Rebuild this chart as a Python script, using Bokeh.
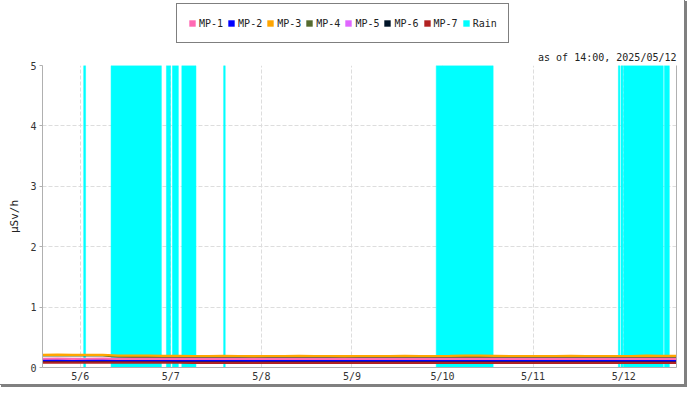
import pandas as pd
from bokeh.plotting import figure
from bokeh.layouts import column
from bokeh.models import (ColumnDataSource, Legend, LegendItem, Title, FixedTicker,
                          DatetimeTickFormatter, LinearAxis, Range1d)
from bokeh.embed import file_html
from bokeh.resources import INLINE

# ---------------- data ----------------
t_start = "2025-05-05 14:00"
t_end = "2025-05-12 14:00"
# readings every 4 hours from 2025-05-05 14:00 to 2025-05-12 14:00
times = pd.date_range(t_start, t_end, freq="4h")

mp1 = [0.145, 0.146, 0.144, 0.145, 0.146, 0.144, 0.143, 0.144, 0.145, 0.143, 0.142, 0.143,
       0.144, 0.143, 0.142, 0.143, 0.144, 0.143, 0.142, 0.143, 0.144, 0.143, 0.143, 0.142,
       0.143, 0.144, 0.143, 0.142, 0.144, 0.145, 0.143, 0.142, 0.143, 0.144, 0.143, 0.142,
       0.143, 0.143, 0.144, 0.143, 0.145, 0.144, 0.143]
mp2 = [0.120, 0.121, 0.119, 0.120, 0.121, 0.118, 0.117, 0.118, 0.117, 0.116, 0.117, 0.116,
       0.117, 0.116, 0.115, 0.116, 0.117, 0.116, 0.118, 0.117, 0.116, 0.117, 0.118, 0.117,
       0.116, 0.117, 0.118, 0.117, 0.116, 0.117, 0.116, 0.117, 0.116, 0.117, 0.118, 0.116,
       0.117, 0.116, 0.117, 0.118, 0.117, 0.118, 0.117]
mp3 = [0.210, 0.212, 0.208, 0.210, 0.210, 0.198, 0.196, 0.195, 0.194, 0.193, 0.190, 0.190,
       0.191, 0.190, 0.189, 0.190, 0.190, 0.191, 0.190, 0.190, 0.189, 0.190, 0.190, 0.190,
       0.191, 0.190, 0.190, 0.192, 0.196, 0.195, 0.193, 0.190, 0.190, 0.190, 0.190, 0.191,
       0.190, 0.190, 0.190, 0.190, 0.196, 0.194, 0.192]
mp4 = [0.200, 0.201, 0.199, 0.200, 0.200, 0.178, 0.174, 0.172, 0.171, 0.171, 0.170, 0.171,
       0.172, 0.170, 0.171, 0.172, 0.170, 0.171, 0.172, 0.170, 0.170, 0.171, 0.172, 0.170,
       0.171, 0.170, 0.172, 0.173, 0.172, 0.171, 0.170, 0.171, 0.172, 0.170, 0.171, 0.170,
       0.172, 0.171, 0.170, 0.172, 0.174, 0.173, 0.172]
mp5 = [0.134, 0.135, 0.133, 0.134, 0.135, 0.133, 0.134, 0.133, 0.132, 0.134, 0.135, 0.136,
       0.134, 0.133, 0.134, 0.133, 0.132, 0.133, 0.134, 0.133, 0.132, 0.133, 0.134, 0.133,
       0.132, 0.133, 0.134, 0.135, 0.134, 0.133, 0.132, 0.133, 0.134, 0.133, 0.132, 0.133,
       0.134, 0.133, 0.132, 0.134, 0.135, 0.134, 0.133]
mp6 = [0.106, 0.107, 0.105, 0.106, 0.107, 0.106, 0.105, 0.104, 0.105, 0.104, 0.103, 0.104,
       0.103, 0.104, 0.103, 0.104, 0.103, 0.102, 0.103, 0.104, 0.103, 0.104, 0.103, 0.102,
       0.103, 0.104, 0.103, 0.104, 0.105, 0.104, 0.103, 0.104, 0.103, 0.102, 0.103, 0.104,
       0.103, 0.104, 0.103, 0.105, 0.106, 0.105, 0.104]
mp7 = [0.082, 0.083, 0.081, 0.082, 0.083, 0.081, 0.080, 0.081, 0.080, 0.079, 0.077, 0.076,
       0.077, 0.076, 0.077, 0.076, 0.075, 0.076, 0.077, 0.076, 0.075, 0.076, 0.077, 0.076,
       0.075, 0.076, 0.077, 0.076, 0.077, 0.076, 0.075, 0.076, 0.077, 0.076, 0.075, 0.076,
       0.077, 0.076, 0.075, 0.077, 0.078, 0.077, 0.076]

series_names = ["MP-1", "MP-2", "MP-3", "MP-4", "MP-5", "MP-6", "MP-7"]
series_values = [mp1, mp2, mp3, mp4, mp5, mp6, mp7]
series_colors = ["#ff69b4", "#0000ff", "#ffa500", "#556b2f", "#e066ff", "#001428", "#b22222"]
draw_order = ["MP-4", "MP-5", "MP-6", "MP-2", "MP-7", "MP-1", "MP-3"]
rain_name = "Rain"
rain_color = "#00ffff"

# rain periods (drawn as full-height bars)
rain_start = ["2025-05-06 00:55", "2025-05-06 08:10", "2025-05-06 22:50", "2025-05-07 00:25",
              "2025-05-07 02:55", "2025-05-07 14:00", "2025-05-09 22:20", "2025-05-11 22:36",
              "2025-05-11 23:18", "2025-05-12 00:00", "2025-05-12 10:48"]
rain_end = ["2025-05-06 01:25", "2025-05-06 21:30", "2025-05-06 23:55", "2025-05-07 02:00",
            "2025-05-07 06:40", "2025-05-07 14:25", "2025-05-10 13:25", "2025-05-11 23:00",
            "2025-05-11 23:48", "2025-05-12 10:30", "2025-05-12 12:06"]
rain_level = 5.0

day_ticks = ["2025-05-06", "2025-05-07", "2025-05-08", "2025-05-09",
             "2025-05-10", "2025-05-11", "2025-05-12"]
y_ticks = [0, 1, 2, 3, 4, 5]
y_label = "μSv/h"
as_of_text = "as of 14:00, 2025/05/12"

# ---------------- legend strip ----------------
FONT = "DejaVu Sans Mono"
W = 684
LEG_H = 46

lf = figure(width=W, height=LEG_H, x_range=Range1d(0, 1), y_range=Range1d(0, 1),
            output_backend="svg", toolbar_location=None,
            x_axis_location=None, y_axis_location=None,
            min_border=0, min_border_left=0, min_border_right=0,
            min_border_top=0, min_border_bottom=0)
lf.grid.visible = False
lf.outline_line_color = None
lf.background_fill_color = "white"
lf.border_fill_color = "white"

items = []
for name, col in zip(series_names + [rain_name], series_colors + [rain_color]):
    sw = lf.quad(left=[0], right=[0], top=[0], bottom=[0], fill_color=col, line_color=None)
    items.append(LegendItem(label=name, renderers=[sw]))

legend = Legend(items=items, orientation="horizontal", location=(134, 3),
                glyph_width=8, glyph_height=8, label_standoff=3, spacing=4,
                padding=11, label_height=16, margin=0,
                label_text_font=FONT, label_text_font_size="10px", label_text_color="#222222",
                border_line_color="black", border_line_width=1, background_fill_color="white",
                background_fill_alpha=1.0)
lf.add_layout(legend, "center")

# ---------------- main chart ----------------
x0 = pd.Timestamp(t_start)
x1 = pd.Timestamp(t_end)

p = figure(width=W, height=384 - LEG_H, x_axis_type="datetime",
           x_range=(x0, x1), y_range=(0, 5),
           output_backend="svg", toolbar_location=None,
           min_border_left=42, min_border_right=8, min_border_top=19, min_border_bottom=14)
p.background_fill_color = "white"
p.border_fill_color = "white"
p.outline_line_color = None

rain_src = ColumnDataSource(dict(left=pd.to_datetime(rain_start), right=pd.to_datetime(rain_end),
                                 top=[rain_level] * len(rain_start), bottom=[0] * len(rain_start)))
p.quad(left="left", right="right", top="top", bottom="bottom", source=rain_src,
       fill_color=rain_color, line_color=rain_color, line_width=0.5)

lookup = {n: (v, c) for n, v, c in zip(series_names, series_values, series_colors)}
for name in draw_order:
    vals, col = lookup[name]
    src = ColumnDataSource(dict(t=times, v=vals))
    p.line("t", "v", source=src, line_color=col, line_width=2.2)

title = Title(text=as_of_text, align="right", text_font=FONT, text_font_size="10px",
              text_font_style="normal", text_color="#222222", standoff=5, offset=0)
p.add_layout(title, "above")

p.xaxis.ticker = FixedTicker(ticks=[pd.Timestamp(d).value / 1e6 for d in day_ticks])
p.xaxis.formatter = DatetimeTickFormatter(days="%-m/%-d", months="%-m/%-d", hours="%-m/%-d")
p.yaxis.ticker = FixedTicker(ticks=y_ticks)
p.yaxis.axis_label = y_label
for ax in (p.xaxis[0], p.yaxis[0]):
    ax.axis_line_color = "#b0b0b0"
    ax.major_tick_line_color = "#b0b0b0"
    ax.minor_tick_line_color = None
    ax.major_label_text_font = FONT
    ax.major_label_text_font_size = "10px"
    ax.major_label_text_color = "#333333"
    ax.axis_label_text_font = FONT
    ax.axis_label_text_font_size = "11px"
    ax.axis_label_text_font_style = "normal"
    ax.axis_label_text_color = "#222222"
p.xaxis.major_tick_out = 0
p.xaxis.major_tick_in = 0
p.xaxis.major_label_standoff = 3
p.xaxis.axis_label_standoff = 0
p.yaxis.major_tick_out = 3
p.yaxis.major_tick_in = 0
p.yaxis.major_label_standoff = 3
p.yaxis.axis_label_standoff = 6

right_ax = LinearAxis(axis_line_color="#b0b0b0", major_tick_line_color=None,
                      minor_tick_line_color=None, major_label_text_font_size="0px",
                      major_label_standoff=0, major_tick_out=0, major_tick_in=0,
                      axis_label_standoff=0, ticker=FixedTicker(ticks=[]))
p.add_layout(right_ax, "right")

p.xgrid.grid_line_color = "#dddddd"
p.xgrid.grid_line_dash = "4 2"
p.ygrid.grid_line_color = "#dddddd"
p.ygrid.grid_line_dash = "4 2"

page = column(lf, p, spacing=0)
page.styles = {"box-shadow": "0 0 0 1px #808080, 2px 2px 0 1px #808080"}

open("out.html", "w").write(file_html(page, INLINE))
